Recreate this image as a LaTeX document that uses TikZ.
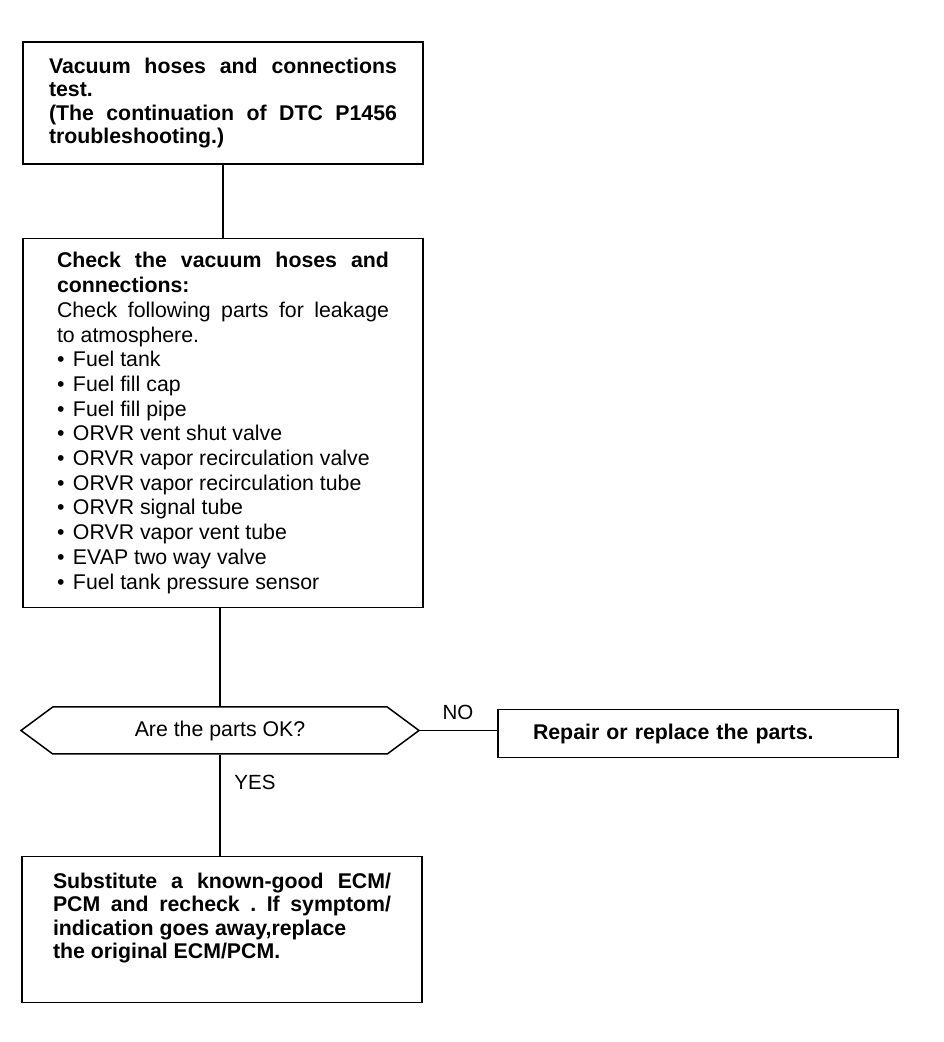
\documentclass[tikz,border=0pt]{standalone}
\usepackage{fontspec}
\setmainfont{Liberation Sans}
\usepackage{tikz}
\usetikzlibrary{shapes,shapes.symbols,positioning}
\frenchspacing

\tikzset{
  stepbox/.style={draw,line width=1.5pt,minimum width=400pt,align=justify,
                  inner xsep=#1,text width=400pt-2*#1,
                  font=\fontsize{21.3}{23.3}\selectfont},
  stepbox/.default=30pt,
  askbox/.style={draw,line width=1.5pt,shape=signal,signal to=west and east,
                 signal pointer angle=73,minimum width=398pt,minimum height=47pt,
                 inner sep=0pt,font=\fontsize{21.3}{24}\selectfont},
  lbl/.style={inner sep=0pt,font=\fontsize{20.5}{24}\selectfont},
  link/.style={line width=1.5pt}
}

\begin{document}
\begin{tikzpicture}[x=1pt,y=1pt]
            \useasboundingbox (0,0) rectangle (944,1042);
            \node[stepbox=26pt,minimum height=122pt] (test) at (223,939) {
                \bfseries\rightskip=9pt
                Vacuum hoses and connections\linebreak
                test.\\
                (The continuation of DTC P1456\linebreak
                troubleshooting.)
            };
            \node[stepbox=34pt,minimum height=369pt,below=73pt of test,
                  font=\fontsize{21.3}{24.7}\selectfont] (check) {
                \textbf{Check the vacuum hoses and\linebreak
                connections:}\\
                Check following parts for leakage\linebreak
                to atmosphere.\\
                \makebox[16pt][l]{•}Fuel tank\\
                \makebox[16pt][l]{•}Fuel fill cap\\
                \makebox[16pt][l]{•}Fuel fill pipe\\
                \makebox[16pt][l]{•}ORVR vent shut valve\\
                \makebox[16pt][l]{•}ORVR vapor recirculation valve\\
                \makebox[16pt][l]{•}ORVR vapor recirculation tube\\
                \makebox[16pt][l]{•}ORVR signal tube\\
                \makebox[16pt][l]{•}ORVR vapor vent tube\\
                \makebox[16pt][l]{•}EVAP two way valve\\
                \makebox[16pt][l]{•}Fuel tank pressure sensor
            };
            \node[askbox,below=98pt of check,xshift=-3pt] (parts) {Are the parts OK?};
            \node[stepbox=35pt,minimum height=48pt,align=left,right=77pt of parts,
                  yshift=-3pt] (repair) {\bfseries Repair or replace the parts.};
            \node[stepbox=31pt,minimum height=146pt,below=101pt of parts,
                  xshift=2pt] (subst) {
                \bfseries\rightskip=11pt
                Substitute a known-good ECM/\linebreak
                PCM and recheck . If symptom/\linebreak
                indication goes away,replace\\
                the original ECM/PCM.\\[4pt]
                \mbox{}
            };
            \node[lbl] (no) at (458,329.5) {NO};
            \node[lbl] (yes) at (255,260) {YES};
            \draw[link] (test.south) -- (test.south |- check.north);
            \draw[link] (parts.north) -- (parts.north |- check.south);
            \draw[link] (parts.south) -- (parts.south |- subst.north);
            \draw[link] (parts.east) -- (parts.east -| repair.west);
        \end{tikzpicture}
\end{document}
